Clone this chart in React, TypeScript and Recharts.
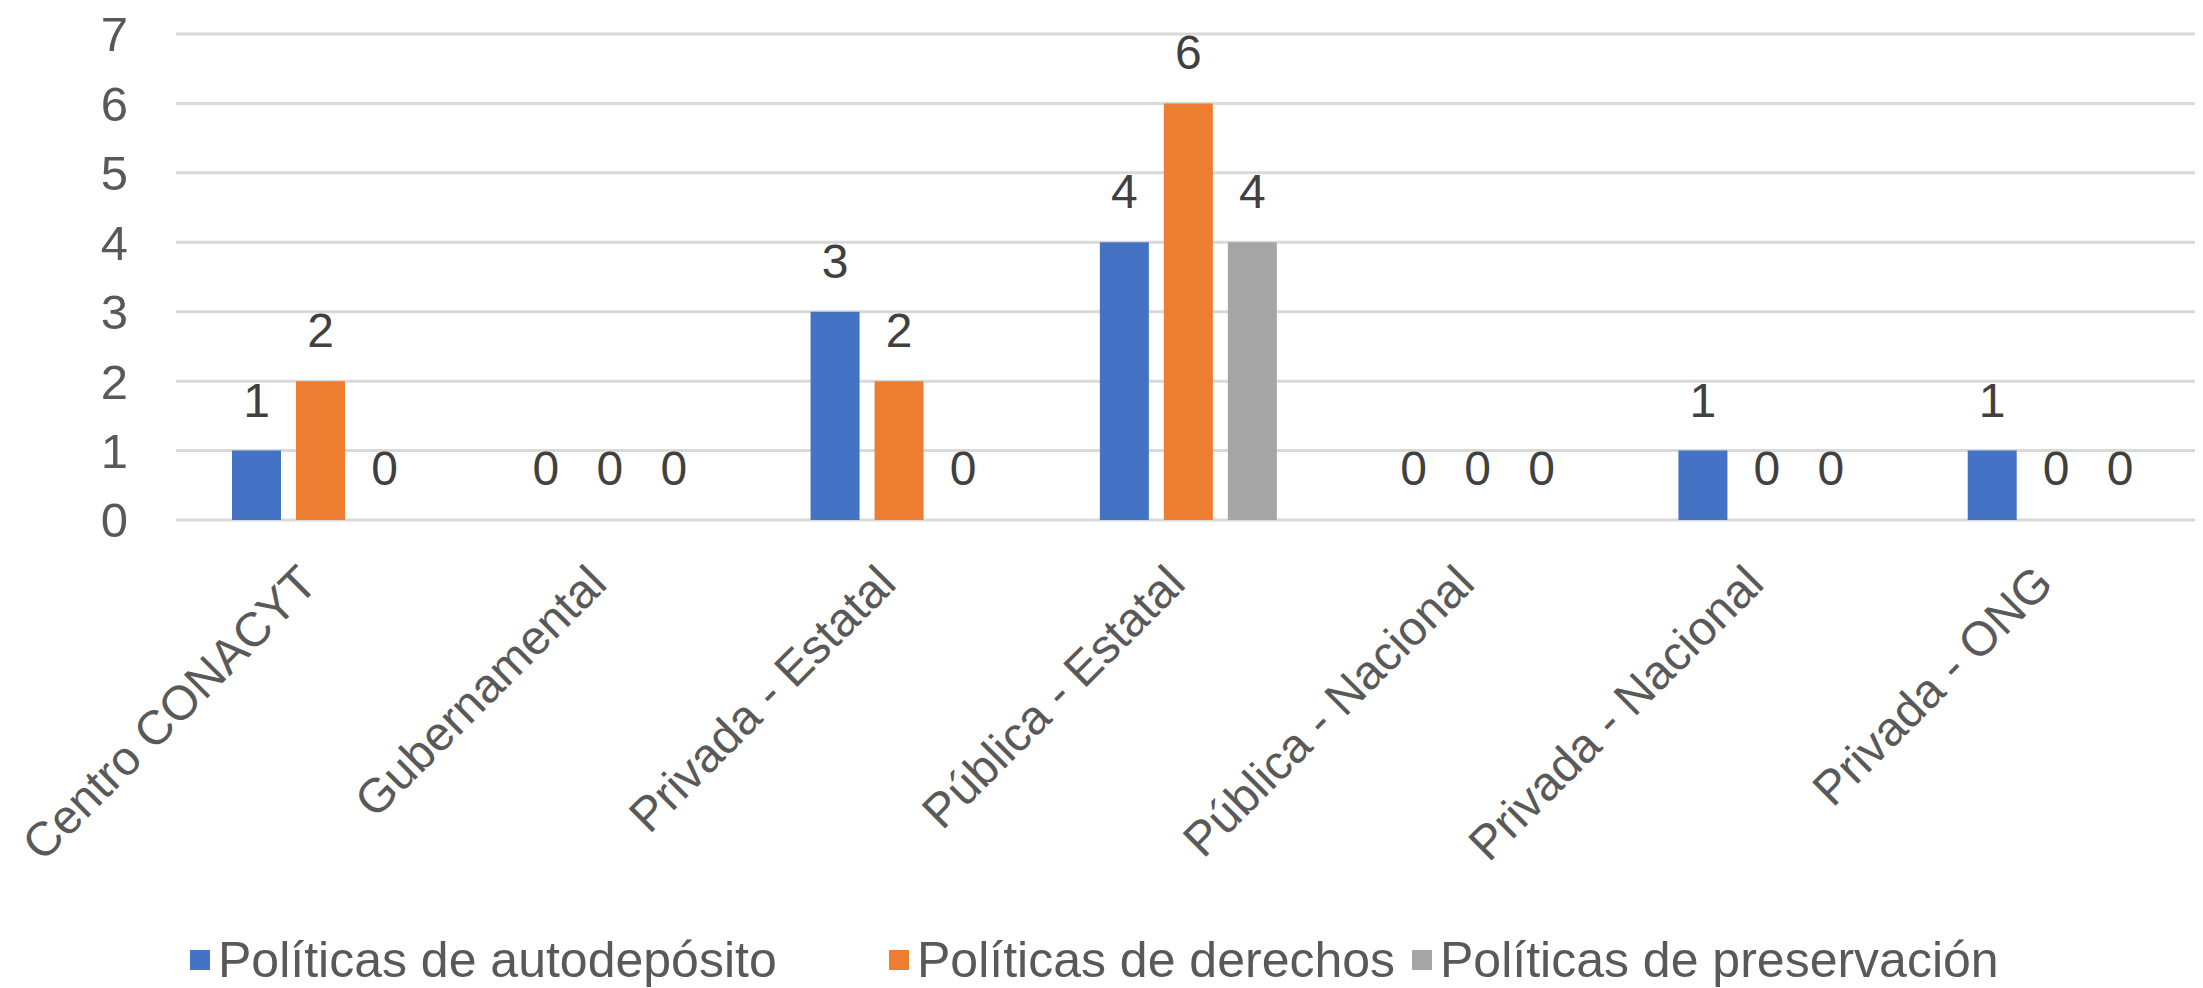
import React from "react";
import { BarChart, Bar, XAxis, YAxis, CartesianGrid, Legend, LabelList, Rectangle } from "recharts";

const categories = [
  "Centro CONACYT",
  "Gubernamental",
  "Privada - Estatal",
  "Pública - Estatal",
  "Pública - Nacional",
  "Privada - Nacional",
  "Privada - ONG",
];
const autodeposito = [1, 0, 3, 4, 0, 1, 1];
const derechos = [2, 0, 2, 6, 0, 0, 0];
const preservacion = [0, 0, 0, 4, 0, 0, 0];
const yTicks = [0, 1, 2, 3, 4, 5, 6, 7];

const seriesNames = ["Políticas de autodepósito", "Políticas de derechos", "Políticas de preservación"];
const seriesKeys = ["a", "d", "p"];
const colors = ["#4472C4", "#ED7D31", "#A5A5A5"];

const data = categories.map((c, i) => ({
  name: c,
  a: autodeposito[i],
  d: derechos[i],
  p: preservacion[i],
}));

const FONT = "'Liberation Sans', Arial, sans-serif";
const AXIS_COLOR = "#595959";
const LABEL_COLOR = "#404040";

const XTick = (props: any) => {
  const { x, y, payload } = props;
  const ax = x - 1;
  const ay = y + 66;
  return (
    <text
      x={ax}
      y={ay}
      transform={`rotate(-45, ${ax}, ${ay})`}
      textAnchor="end"
      fontSize={48}
      fill={AXIS_COLOR}
      fontFamily={FONT}
    >
      {payload.value}
    </text>
  );
};

const legendStarts = [190, 889, 1412];

const LegendContent = () => (
  <div style={{ position: "relative", height: 56, fontFamily: FONT }}>
    {seriesNames.map((n, i) => (
      <div
        key={n}
        style={{ position: "absolute", left: legendStarts[i], top: 0, height: 56, display: "flex", alignItems: "center", whiteSpace: "nowrap" }}
      >
        <div style={{ width: 20, height: 20, background: colors[i], marginRight: 8 }} />
        <span style={{ fontSize: 50, color: AXIS_COLOR, lineHeight: "56px" }}>{n}</span>
      </div>
    ))}
  </div>
);

const makeShape = (key: string) => (props: any) => {
  const v = props.payload ? props.payload[key] : props.value;
  if (!v) return null;
  return <Rectangle {...props} />;
};

export default function App() {
  return (
    <div style={{ width: 2203, height: 988, marginLeft: -8, marginTop: -8 }}>
      <BarChart
        width={2203}
        height={988}
        data={data}
        margin={{ top: 34, right: 2, left: 0, bottom: 0 }}
        barGap={15}
        barSize={49}
      >
        <CartesianGrid vertical={false} stroke="#D9D9D9" strokeWidth={3} />
        <XAxis
          dataKey="name"
          axisLine={false}
          tickLine={false}
          tickSize={0}
          tickMargin={0}
          interval={0}
          height={412}
          tick={<XTick />}
        />
        <YAxis
          domain={[0, 7]}
          ticks={yTicks}
          axisLine={false}
          tickLine={false}
          tickSize={0}
          tickMargin={48}
          width={176}
          tick={{ fontSize: 49, fill: AXIS_COLOR, fontFamily: FONT }}
        />
        <Legend verticalAlign="bottom" height={56} content={<LegendContent />} />
        {seriesKeys.map((k, i) => (
          <Bar
            key={k}
            dataKey={k}
            name={seriesNames[i]}
            fill={colors[i]}
            minPointSize={1}
            shape={makeShape(k)}
            isAnimationActive={false}
          >
            <LabelList dataKey={k} position="top" offset={34} fontSize={48} fill={LABEL_COLOR} fontFamily={FONT} />
          </Bar>
        ))}
      </BarChart>
    </div>
  );
}
